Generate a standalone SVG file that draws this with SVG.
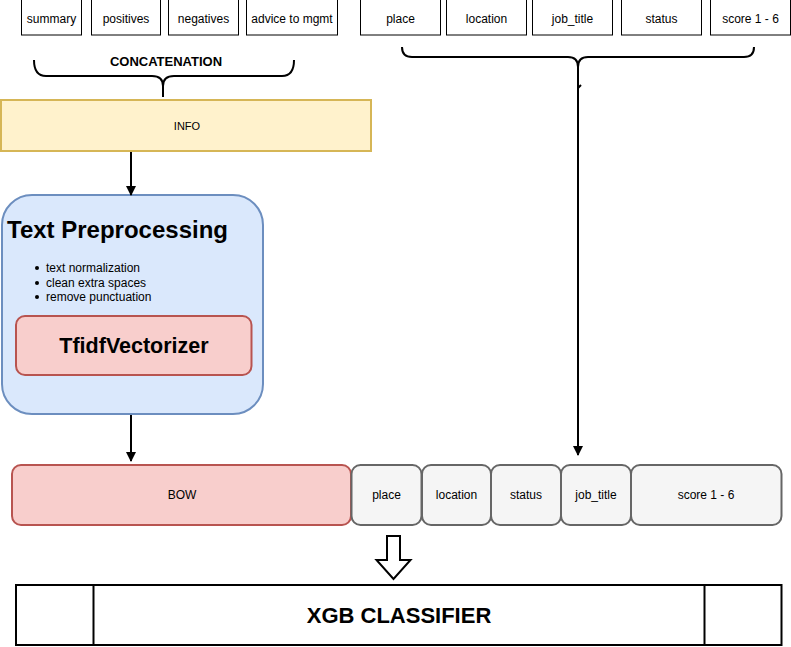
<svg xmlns="http://www.w3.org/2000/svg" width="791" height="647" viewBox="0 0 791 647">
<defs>
<style>
text{font-family:"Liberation Sans",Arial,sans-serif;fill:#000}
.lbl{font-size:12px;text-anchor:middle;dominant-baseline:central}
.top{fill:#fff;stroke:#000;stroke-width:1}
.feat{fill:#f5f5f5;stroke:#666;stroke-width:2}
.ln{fill:none;stroke:#000;stroke-width:2}
</style>
<marker id="ah" viewBox="0 0 10 10" refX="9" refY="5" markerWidth="10" markerHeight="10" markerUnits="userSpaceOnUse" orient="auto">
<path d="M0,0 L10,5 L0,10 Z" fill="#000"/>
</marker>
</defs>
<rect width="791" height="647" fill="#fff"/>
<g id="summary"><rect class="top" x="21.5" y="-0.5" width="60" height="35.5"/><text class="lbl" x="51.5" y="18.5">summary</text></g>
<g id="positives"><rect class="top" x="91.5" y="-0.5" width="69" height="35.5"/><text class="lbl" x="126" y="18.5">positives</text></g>
<g id="negatives"><rect class="top" x="168.5" y="-0.5" width="70" height="35.5"/><text class="lbl" x="203.5" y="18.5">negatives</text></g>
<g id="advice"><rect class="top" x="246.5" y="-0.5" width="91" height="35.5"/><text class="lbl" x="292" y="18.5">advice to mgmt</text></g>
<g id="place_top"><rect class="top" x="360.5" y="-0.5" width="80" height="35.5"/><text class="lbl" x="400.5" y="18.5">place</text></g>
<g id="location_top"><rect class="top" x="446.5" y="-0.5" width="80" height="35.5"/><text class="lbl" x="486.5" y="18.5">location</text></g>
<g id="job_title_top"><rect class="top" x="532.5" y="-0.5" width="80" height="35.5"/><text class="lbl" x="572.5" y="18.5">job_title</text></g>
<g id="status_top"><rect class="top" x="621.5" y="-0.5" width="80" height="35.5"/><text class="lbl" x="661.5" y="18.5">status</text></g>
<g id="score_top"><rect class="top" x="710.5" y="-0.5" width="80" height="35.5"/><text class="lbl" x="750.5" y="18.5">score 1 - 6</text></g>

<g id="concat_brace">
<path class="ln" d="M34,60 Q34,76 46,76 H152 Q163,76 163,86 Q163,76 174,76 H282 Q294,76 294,60 M163,84 V97"/>
<text x="166" y="61" style="font-size:13px;font-weight:bold;text-anchor:middle;dominant-baseline:central">CONCATENATION</text>
</g>

<g id="info"><rect x="1" y="100" width="370" height="51" fill="#fff2cc" stroke="#d6b656" stroke-width="2"/><text class="lbl" x="187" y="126" style="font-size:11px">INFO</text></g>

<g id="text_preprocessing">
<rect x="2" y="195" width="261" height="219" rx="30" fill="#dae8fc" stroke="#6c8ebf" stroke-width="2"/>
<text x="7" y="238" style="font-size:24px;font-weight:bold">Text Preprocessing</text>
<g style="font-size:12px">
<circle cx="37" cy="268" r="2"/><text x="46" y="272">text normalization</text>
<circle cx="37" cy="283" r="2"/><text x="46" y="286.5">clean extra spaces</text>
<circle cx="37" cy="297" r="2"/><text x="46" y="301">remove punctuation</text>
</g>
</g>
<g id="tfidf"><rect x="16" y="316" width="235.5" height="59" rx="9" fill="#f8cecc" stroke="#b85450" stroke-width="2"/><text x="134" y="346" style="font-size:21.5px;font-weight:bold;text-anchor:middle;dominant-baseline:central">TfidfVectorizer</text></g>

<g id="bow"><rect x="12" y="465" width="339" height="60" rx="9" fill="#f8cecc" stroke="#b85450" stroke-width="2"/><text class="lbl" x="182" y="495">BOW</text></g>
<g id="place"><rect class="feat" x="351.5" y="465" width="70" height="60" rx="9"/><text class="lbl" x="386.5" y="495">place</text></g>
<g id="location"><rect class="feat" x="422" y="465" width="69" height="60" rx="9"/><text class="lbl" x="456.5" y="495">location</text></g>
<g id="status"><rect class="feat" x="491" y="465" width="70" height="60" rx="9"/><text class="lbl" x="526" y="495">status</text></g>
<g id="job_title"><rect class="feat" x="561" y="465" width="70" height="60" rx="9"/><text class="lbl" x="596" y="495">job_title</text></g>
<g id="score"><rect class="feat" x="631" y="465" width="150.5" height="60" rx="9"/><text class="lbl" x="706" y="495">score 1 - 6</text></g>

<g id="xgb">
<rect x="16" y="585" width="765.5" height="60" fill="#fff" stroke="#000" stroke-width="2"/>
<line x1="93.5" y1="585" x2="93.5" y2="645" stroke="#000" stroke-width="2"/>
<line x1="704.5" y1="585" x2="704.5" y2="645" stroke="#000" stroke-width="2"/>
<text x="399" y="615" style="font-size:22px;font-weight:bold;text-anchor:middle;dominant-baseline:central">XGB CLASSIFIER</text>
</g>

<g id="connectors">
<path class="ln" d="M402,47 Q402,57 412,57 H568 Q578,57 578,67 Q578,57 588,57 H744 Q754,57 754,47 M578,65 V88 L581,85"/>
<line x1="578" y1="88" x2="578" y2="455" stroke="#000" stroke-width="2" marker-end="url(#ah)"/>
<line x1="131" y1="152" x2="131" y2="195" stroke="#000" stroke-width="2" marker-end="url(#ah)"/>
<line x1="131" y1="415" x2="131" y2="461" stroke="#000" stroke-width="2" marker-end="url(#ah)"/>
<path d="M387,536 H400 V560 H410.5 L393.5,579 L376.5,560 H387 Z" fill="#fff" stroke="#000" stroke-width="2" stroke-linejoin="miter"/>
</g>
</svg>
